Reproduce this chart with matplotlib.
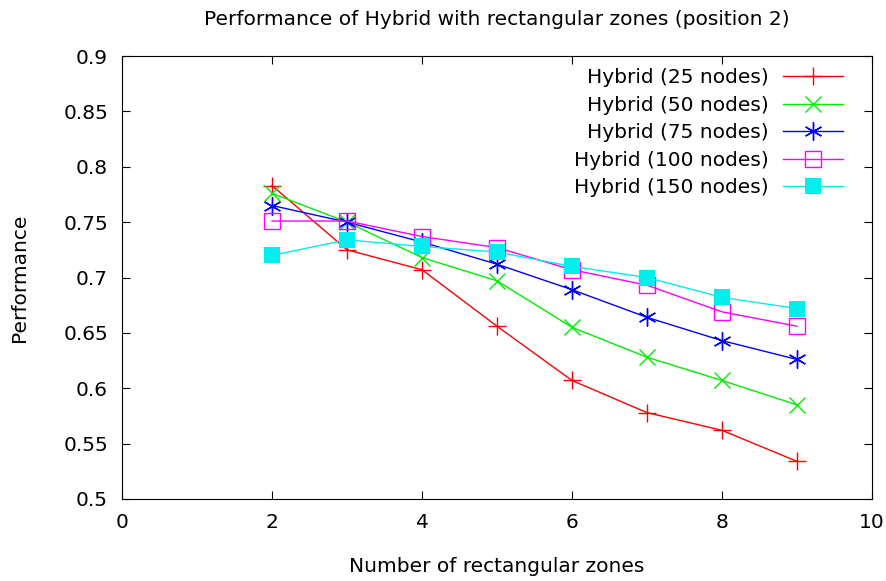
import matplotlib.pyplot as plt
import numpy as np

zones = [2, 3, 4, 5, 6, 7, 8, 9]
perf_25 = [0.783, 0.725, 0.707, 0.656, 0.607, 0.578, 0.562, 0.534]
perf_50 = [0.776, 0.750, 0.718, 0.697, 0.655, 0.628, 0.607, 0.585]
perf_75 = [0.765, 0.750, 0.732, 0.712, 0.689, 0.664, 0.643, 0.626]
perf_100 = [0.751, 0.751, 0.737, 0.727, 0.707, 0.693, 0.669, 0.656]
perf_150 = [0.720, 0.734, 0.728, 0.723, 0.710, 0.700, 0.682, 0.672]

fs = 14.5
fig = plt.figure(figsize=(8.86, 5.81), dpi=100)
ax = fig.add_axes([122/886, 82/581, 750/886, 443/581])

ax.plot(zones, perf_25, color='#ff0000', marker='+', markersize=13, mew=1, lw=1, label='Hybrid (25 nodes)')
ax.plot(zones, perf_50, color='#00ee00', marker='x', markersize=11, mew=1, lw=1, label='Hybrid (50 nodes)')
ax.plot(zones, perf_75, color='#0000ff', marker=(6, 2, 0), markersize=13, mew=1, lw=1, label='Hybrid (75 nodes)')
ax.plot(zones, perf_100, color='#ff00ff', marker='s', markersize=12, mew=1, mfc='none', lw=1, label='Hybrid (100 nodes)')
ax.plot(zones, perf_150, color='#00eeee', marker='s', markersize=12, mew=0, lw=1, label='Hybrid (150 nodes)')

ax.set_xlim(0, 10)
ax.set_ylim(0.5, 0.9)
ax.set_xticks(np.arange(0, 11, 2))
ax.set_yticks(np.arange(0.5, 0.91, 0.05))
ax.set_yticklabels(['0.5', '0.55', '0.6', '0.65', '0.7', '0.75', '0.8', '0.85', '0.9'])
ax.tick_params(direction='in', top=True, right=True, labelsize=fs, length=6, pad=10)
ax.set_xlabel('Number of rectangular zones', fontsize=fs, labelpad=18)
ax.set_ylabel('Performance', fontsize=fs, labelpad=25)
ax.set_title('Performance of Hybrid with rectangular zones (position 2)', fontsize=fs, pad=22)

leg = ax.legend(loc='upper right', bbox_to_anchor=(0.962, 0.972), frameon=False,
                markerfirst=False, fontsize=fs,
                handlelength=3.0, handletextpad=0.7, labelspacing=0.42,
                borderaxespad=0, borderpad=0)
for t in leg.get_texts():
    t.set_ha('right')
leg._legend_box.align = 'right'

fig.savefig('out.png', dpi=100)
